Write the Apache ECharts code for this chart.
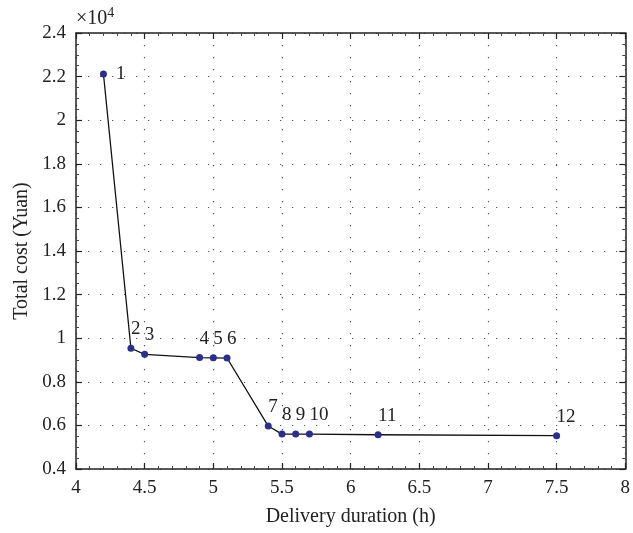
<!DOCTYPE html>
<html>
<head>
<meta charset="utf-8">
<script src="https://cdn.jsdelivr.net/npm/echarts@6/dist/echarts.min.js"></script>
<style>html,body{margin:0;padding:0;background:#fff;}#c{width:633px;height:533px;}</style>
</head>
<body>
<div id="c"></div>
<script>
var durations = [4.2, 4.4, 4.5, 4.9, 5.0, 5.1, 5.4, 5.5, 5.6, 5.7, 6.2, 7.5];
var costs = [22120, 9540, 9260, 9110, 9100, 9090, 5970, 5600, 5600, 5600, 5570, 5530];
var pointLabels = ['1','2','3','4','5','6','7','8','9','10','11','12'];
var xTicks = [4, 4.5, 5, 5.5, 6, 6.5, 7, 7.5, 8];
var yTicks = [0.4, 0.6, 0.8, 1, 1.2, 1.4, 1.6, 1.8, 2, 2.2, 2.4];

var FONT = 'Liberation Serif';
var chart = echarts.init(document.getElementById('c'), null, {renderer: 'canvas'});

var data = durations.map(function (d, i) {
  var item = {value: [d, costs[i]], name: pointLabels[i]};
  if (i === 0) {
    item.label = {position: 'right', distance: 9, align: 'left', offset: [0, 0]};
  }
  return item;
});

var gridLine = {show: true, lineStyle: {color: '#555', width: 1.2, type: [1.2, 10.8]}};
var common = {
  axisLine: {show: true, onZero: false, lineStyle: {color: '#222', width: 1.5}},
  axisTick: {show: true, inside: true, length: 6, lineStyle: {color: '#222', width: 1.2}},
  minorTick: {show: true, splitNumber: 5, length: 3, lineStyle: {color: '#444', width: 1}}
};
var yMinor = {minorTick: {show: true, splitNumber: 4, length: 3, lineStyle: {color: '#444', width: 1}}};

var option = {
  animation: false,
  backgroundColor: '#fff',
  textStyle: {fontFamily: FONT},
  grid: {left: 76, right: 5, top: 33, bottom: 64, containLabel: false},
  xAxis: [
    Object.assign({
      type: 'value', min: 4, max: 8, interval: 0.5, position: 'bottom',
      name: 'Delivery duration (h)', nameLocation: 'middle', nameGap: 38,
      nameTextStyle: {fontFamily: FONT, fontSize: 20, color: '#222'},
      axisLabel: {fontFamily: FONT, fontSize: 19, color: '#222', margin: 10,
        formatter: function (v) { return String(parseFloat(v.toFixed(1))); }},
      splitLine: gridLine
    }, common),
    Object.assign({
      type: 'value', min: 4, max: 8, interval: 0.5, position: 'top',
      axisLabel: {show: false}, splitLine: {show: false}
    }, common)
  ],
  yAxis: [
    Object.assign({
      type: 'value', min: 4000, max: 24000, interval: 2000, position: 'left',
      name: 'Total cost (Yuan)', nameLocation: 'middle', nameGap: 44,
      nameTextStyle: {fontFamily: FONT, fontSize: 20, color: '#222'},
      axisLabel: {fontFamily: FONT, fontSize: 19, color: '#222', margin: 10,
        formatter: function (v) { return String(parseFloat((v / 10000).toFixed(1))); }},
      splitLine: gridLine
    }, common, yMinor),
    Object.assign({
      type: 'value', min: 4000, max: 24000, interval: 2000, position: 'right',
      axisLabel: {show: false}, splitLine: {show: false}
    }, common, yMinor)
  ],
  graphic: [{
    type: 'text', left: 76, top: 6,
    style: {
      text: '{a|×10}{b|4}',
      rich: {
        a: {fontFamily: FONT, fontSize: 20, fill: '#222', verticalAlign: 'bottom'},
        b: {fontFamily: FONT, fontSize: 14, fill: '#222', verticalAlign: 'top', padding: [0, 0, 9, 0]}
      }
    }
  }],
  series: [{
    type: 'line',
    xAxisIndex: 0, yAxisIndex: 0,
    data: data,
    symbol: 'circle',
    symbolSize: 7,
    lineStyle: {color: '#111', width: 1.3},
    itemStyle: {color: '#2a2e8c', borderWidth: 0},
    label: {
      show: true, position: 'top', distance: 6, align: 'left', offset: [0, 0],
      formatter: function (p) { return p.name; },
      fontFamily: FONT, fontSize: 19, color: '#222'
    },
    z: 5
  }]
};
chart.setOption(option);
</script>
</body>
</html>
